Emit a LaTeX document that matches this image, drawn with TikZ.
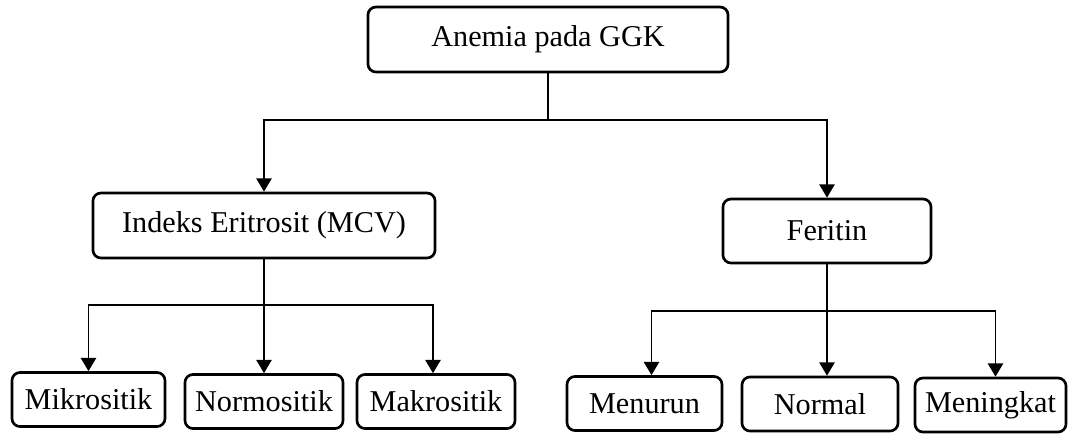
\documentclass[tikz,border=0pt]{standalone}
\usepackage{fontspec}
\setmainfont{Liberation Serif}
\usetikzlibrary{arrows.meta}

\begin{document}
\begin{tikzpicture}
		[x=0.025cm, y=-0.025cm,
		boxsty/.style={draw, rounded corners=0.2cm, line width=1.9pt, inner sep=0pt,
			font=\fontsize{21.5}{25}\selectfont},
		lowsty/.style={boxsty, minimum height=1.35cm},
		arrsty/.style={line width=1.2pt, -{Triangle[width=0.38cm, length=0.33cm]}},
		linesty/.style={line width=1.2pt}]
		\useasboundingbox (0,0) rectangle (1068,436);
		
		\node (top) at (548,39.5) [boxsty, minimum width=9cm, minimum height=1.625cm] {Anemia pada GGK};
		\node (indeks) at (264,225.5) [boxsty, minimum width=8.55cm, minimum height=1.625cm] {Indeks Eritrosit (MCV)};
		\node (feritin) at (827,231) [boxsty, minimum width=5.2cm, minimum height=1.6cm] {Feritin};
		
		\node (mikro) at (88.5,399.5) [lowsty, minimum width=3.825cm] {Mikrositik};
		\node (normo) at (264,401.5) [lowsty, minimum width=3.95cm] {Normositik};
		\node (makro) at (436,401.5) [lowsty, minimum width=3.95cm] {Makrositik};
		\node (menurun) at (644.5,403.5) [lowsty, minimum width=3.875cm] {Menurun};
		\node (normal) at (820,404) [lowsty, minimum width=3.9cm] {Normal};
		\node (meningkat) at (990.5,405) [lowsty, minimum width=3.775cm] {Meningkat};
		
		% branch points
		\coordinate (top j) at (548,120);
		\coordinate (indeks j) at (264,305);
		\coordinate (feritin j) at (827,311);
		
		\draw[linesty] (top.south) -- (top j);
		\draw[arrsty] (top j) -| (indeks.north);
		\draw[arrsty] (top j) -| (feritin.north);
		
		\draw[linesty] (indeks.south) -- (indeks j);
		\draw[arrsty] (indeks j) -| (mikro.north);
		\draw[arrsty] (indeks j) -- (normo.north);
		\draw[arrsty] (indeks j) -| ([xshift=-0.075cm]makro.north);
		
		\draw[linesty] (feritin.south) -- (feritin j);
		\draw[arrsty] (feritin j) -| ([xshift=0.175cm]menurun.north);
		\draw[arrsty] (feritin j) -- (feritin j |- normal.north);
		\draw[arrsty] (feritin j) -| ([xshift=0.125cm]meningkat.north);
	\end{tikzpicture}
\end{document}
